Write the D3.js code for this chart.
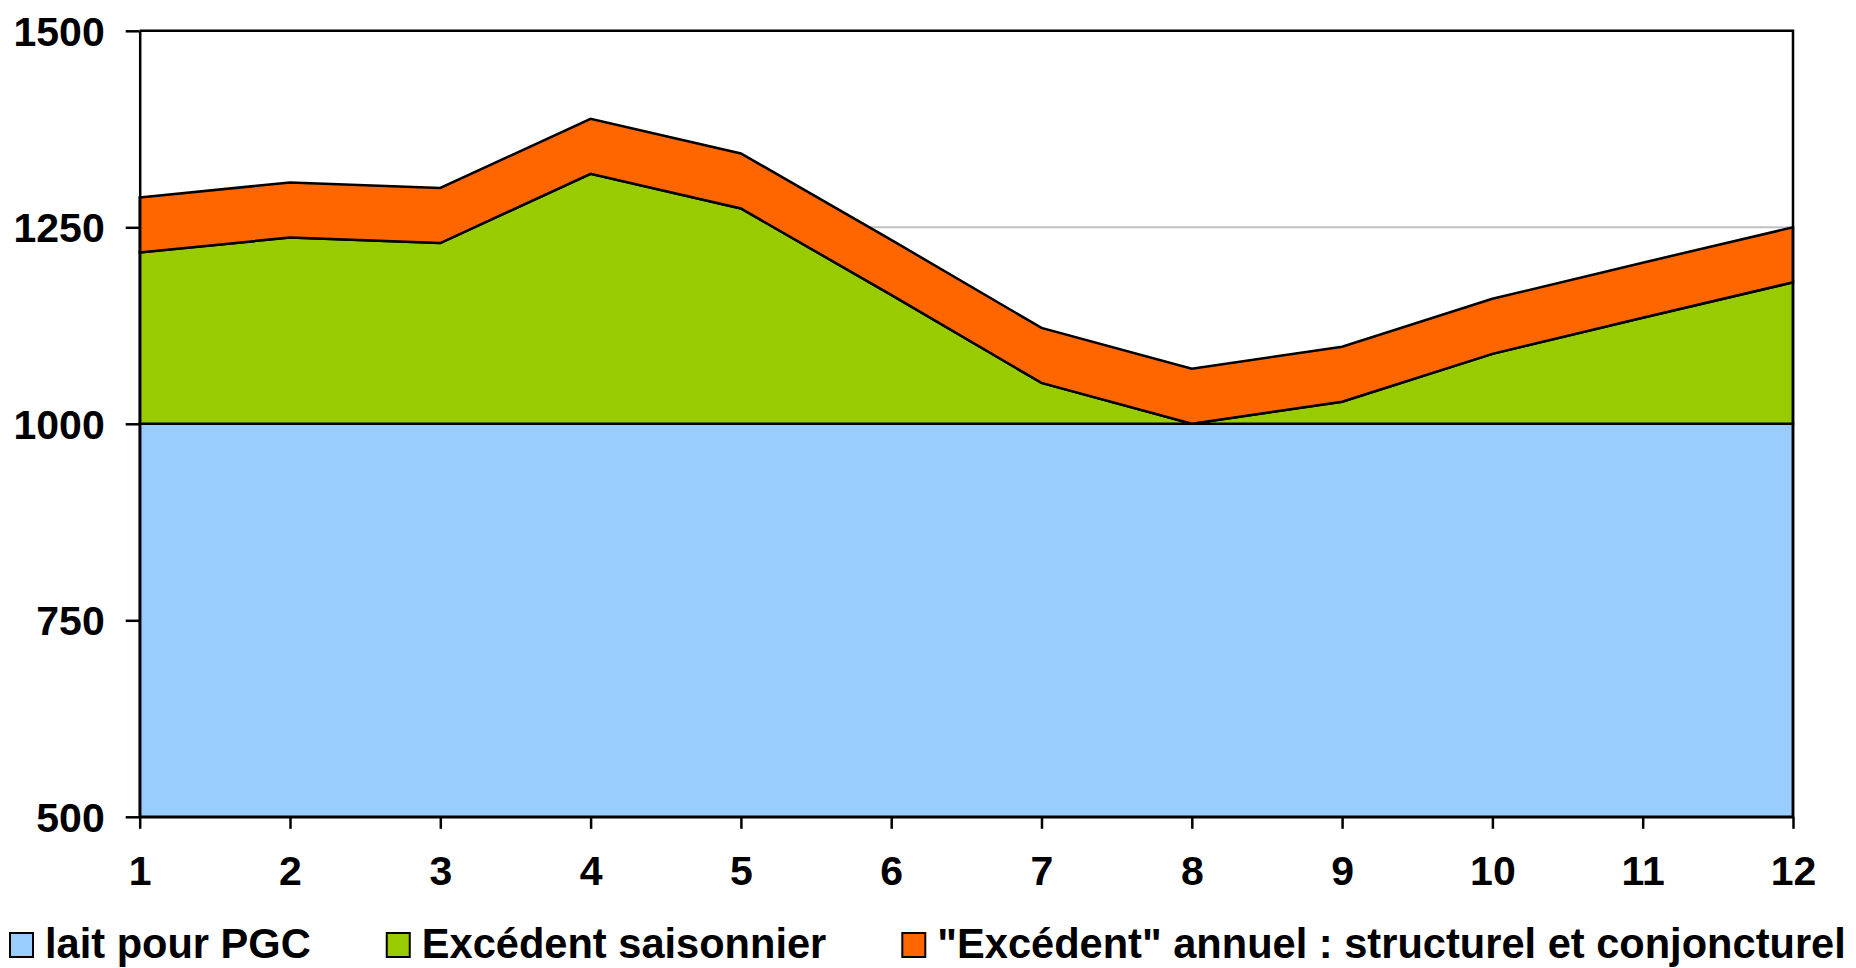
<!DOCTYPE html>
<html>
<head>
<meta charset="utf-8">
<script src="https://cdn.jsdelivr.net/npm/d3@7"></script>
<style>
  html, body { margin: 0; padding: 0; background: #ffffff; }
  svg { display: block; }
  text { font-family: "Liberation Sans", Arial, sans-serif; font-weight: bold; fill: #000; }
</style>
</head>
<body>
<svg id="chart" width="1856" height="968"></svg>
<script>
// Months on the x axis
const months = [1, 2, 3, 4, 5, 6, 7, 8, 9, 10, 11, 12];
// Milk volumes by component (stacked)
const laitPGC = [1000, 1000, 1000, 1000, 1000, 1000, 1000, 1000, 1000, 1000, 1000, 1000];
const excedentSaisonnier = [218, 237, 230, 318, 274, 164, 52, 0, 28, 89, 135, 180];
const excedentAnnuel = [70, 70, 70, 70, 70, 70, 70, 70, 70, 70, 70, 70];
const yTicks = [500, 750, 1000, 1250, 1500];
const seriesNames = ["lait pour PGC", "Excédent saisonnier", "\"Excédent\" annuel : structurel et conjoncturel"];
const seriesColors = ["#99CCFF", "#99CC00", "#FF6600"];

const svg = d3.select("#chart");
const plotLeft = 139.7, plotRight = 1793, plotTop = 30.8, plotBottom = 816.8;

const x = d3.scaleLinear().domain([1, 12]).range([plotLeft, plotRight]);
const y = d3.scaleLinear().domain([500, 1500]).range([plotBottom, plotTop]);

const rows = months.map((m, i) => ({ m, a: laitPGC[i], b: excedentSaisonnier[i], c: excedentAnnuel[i] }));
const stacked = d3.stack().keys(["a", "b", "c"])(rows);

// gridline at 1250 (behind the areas)
svg.append("line")
  .attr("x1", plotLeft).attr("x2", plotRight)
  .attr("y1", y(1250)).attr("y2", y(1250))
  .attr("stroke", "#c0c0c0").attr("stroke-width", 2);

const area = d3.area()
  .x(d => x(d.data.m))
  .y0(d => y(Math.max(500, d[0])))
  .y1(d => y(d[1]));

svg.append("g").selectAll("path")
  .data(stacked)
  .join("path")
  .attr("d", area)
  .attr("fill", (d, i) => seriesColors[i])
  .attr("stroke", "#000")
  .attr("stroke-width", 2.5)
  .attr("stroke-linejoin", "miter");

// plot frame (top and right)
svg.append("path")
  .attr("d", `M${plotLeft},${plotTop}H${plotRight}V${plotBottom}`)
  .attr("fill", "none").attr("stroke", "#000").attr("stroke-width", 2.5);

// y axis
const yAxis = svg.append("g")
  .attr("transform", `translate(${plotLeft},0)`)
  .call(d3.axisLeft(y).tickValues(yTicks).tickSize(14).tickSizeOuter(0).tickPadding(21).tickFormat(d3.format("d")));
yAxis.select(".domain").attr("stroke-width", 2.5);
yAxis.selectAll(".tick line").attr("stroke-width", 2.5);
yAxis.selectAll("text").style("font-size", "41px").attr("dy", "0.35em");

// x axis
const xAxis = svg.append("g")
  .attr("transform", `translate(0,${plotBottom})`)
  .call(d3.axisBottom(x).tickValues(months).tickSize(12).tickSizeOuter(0).tickPadding(27).tickFormat(d3.format("d")));
xAxis.select(".domain").attr("stroke-width", 2.5);
xAxis.selectAll(".tick line").attr("stroke-width", 2.5);
xAxis.selectAll("text").style("font-size", "41px").attr("dy", "0.71em");
svg.selectAll(".domain, .tick line").attr("stroke", "#000");
svg.selectAll("g[font-family]").attr("font-family", null).attr("font-size", null);

// legend: swatch + label, laid out left to right
const legend = svg.append("g");
let lx = 10;
seriesNames.forEach((name, i) => {
  const g = legend.append("g");
  g.append("rect")
    .attr("x", lx).attr("y", 933).attr("width", 23).attr("height", 24)
    .attr("fill", seriesColors[i]).attr("stroke", "#000").attr("stroke-width", 2);
  const t = g.append("text")
    .attr("x", lx + 35).attr("y", 958)
    .style("font-size", "41.6px")
    .text(name);
  lx = lx + 35 + t.node().getComputedTextLength() + 76;
});
</script>
</body>
</html>
